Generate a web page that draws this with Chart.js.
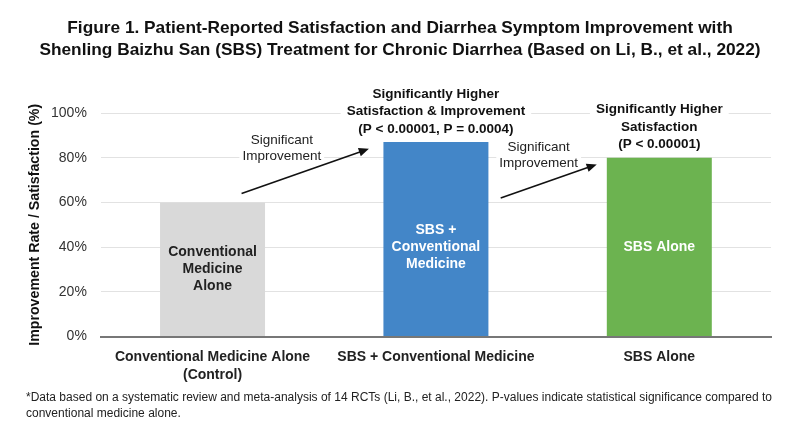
<!DOCTYPE html>
<html>
<head>
<meta charset="utf-8">
<script src="https://cdn.jsdelivr.net/npm/chart.js@4/dist/chart.umd.min.js"></script>
<style>
  html, body { margin: 0; padding: 0; background: #fff; }
  #wrap { width: 800px; height: 436px; position: relative; }
</style>
</head>
<body>
<div id="wrap"><canvas id="chart"></canvas></div>
<script>
// chart data
const categories = [["Conventional Medicine Alone", "(Control)"], "SBS + Conventional Medicine", "SBS Alone"];
const values = [60, 87, 80];
const barColors = ["#d9d9d9", "#4386c8", "#6cb350"];
const barLabels = [["Conventional", "Medicine", "Alone"], ["SBS +", "Conventional", "Medicine"], ["SBS Alone"]];
const barLabelColors = ["#222222", "#ffffff", "#ffffff"];
const topLabels = [[], ["Significantly Higher", "Satisfaction & Improvement", "(P < 0.00001, P = 0.0004)"], ["Significantly Higher", "Satisfaction", "(P < 0.00001)"]];
const yTicks = [0, 20, 40, 60, 80, 100];
const titleLines = [
  "Figure 1. Patient-Reported Satisfaction and Diarrhea Symptom Improvement with",
  "Shenling Baizhu San (SBS) Treatment for Chronic Diarrhea (Based on Li, B., et al., 2022)"
];
const footnoteLines = [
  "*Data based on a systematic review and meta-analysis of 14 RCTs (Li, B., et al., 2022). P-values indicate statistical significance compared to",
  "conventional medicine alone."
];

const FONT = "'Liberation Sans', Arial, sans-serif";

// arrows between bars, in (category index, value) units
const arrowNotes = [
  { from: [0.13, 64], to: [0.70, 84], text: ["Significant", "Improvement"], at: [0.31, 84] },
  { from: [1.29, 62], to: [1.72, 77], text: ["Significant", "Improvement"], at: [1.46, 81] }
];

const notesPlugin = {
  id: "notes",
  afterDatasetsDraw(chart) {
    const ctx = chart.ctx;
    const x = chart.scales.x, y = chart.scales.y;
    ctx.save();
    ctx.textAlign = "center";
    ctx.textBaseline = "middle";

    // labels inside bars
    values.forEach((v, i) => {
      const cx = x.getPixelForValue(i);
      const mid = y.getPixelForValue(Math.min(v / 2, 40));
      const lines = barLabels[i];
      ctx.font = "bold 14px " + FONT;
      ctx.fillStyle = barLabelColors[i];
      lines.forEach((t, k) => {
        ctx.fillText(t, cx, mid + (k - (lines.length - 1) / 2) * 17);
      });
    });

    // labels above bars
    values.forEach((v, i) => {
      const lines = topLabels[i];
      if (!lines.length) return;
      const cx = x.getPixelForValue(i);
      const top = y.getPixelForValue(v);
      ctx.font = "bold 13.5px " + FONT;
      let w = 0;
      lines.forEach(t => { w = Math.max(w, ctx.measureText(t).width); });
      const y0 = top - 13 - (lines.length - 1) * 17.5;
      ctx.fillStyle = "#fff";
      ctx.fillRect(cx - w / 2 - 6, y0 - 9, w + 12, (lines.length - 1) * 17.5 + 18);
      ctx.fillStyle = "#111";
      lines.forEach((t, k) => ctx.fillText(t, cx, y0 + k * 17.5));
    });

    // arrows and their text
    arrowNotes.forEach(n => {
      const x1 = x.getPixelForValue(n.from[0]), y1 = y.getPixelForValue(n.from[1]);
      const x2 = x.getPixelForValue(n.to[0]), y2 = y.getPixelForValue(n.to[1]);
      const tx = x.getPixelForValue(n.at[0]), ty = y.getPixelForValue(n.at[1]);
      ctx.font = "13.5px " + FONT;
      let w = 0;
      n.text.forEach(t => { w = Math.max(w, ctx.measureText(t).width); });
      ctx.fillStyle = "#fff";
      ctx.fillRect(tx - w / 2 - 3, ty - 16, w + 6, 32);
      ctx.fillStyle = "#222";
      n.text.forEach((t, k) => ctx.fillText(t, tx, ty - 8 + k * 16));

      const ang = Math.atan2(y2 - y1, x2 - x1);
      const head = 11;
      ctx.strokeStyle = "#111";
      ctx.lineWidth = 1.6;
      ctx.beginPath();
      ctx.moveTo(x1, y1);
      ctx.lineTo(x2 - Math.cos(ang) * head * 0.8, y2 - Math.sin(ang) * head * 0.8);
      ctx.stroke();
      ctx.fillStyle = "#111";
      ctx.beginPath();
      ctx.moveTo(x2, y2);
      ctx.lineTo(x2 - head * Math.cos(ang - 0.4), y2 - head * Math.sin(ang - 0.4));
      ctx.lineTo(x2 - head * Math.cos(ang + 0.4), y2 - head * Math.sin(ang + 0.4));
      ctx.closePath();
      ctx.fill();
    });
    ctx.restore();
  },
  afterDraw(chart) {
    const ctx = chart.ctx;
    ctx.save();
    // title
    ctx.textAlign = "center";
    ctx.textBaseline = "middle";
    ctx.fillStyle = "#111";
    ctx.font = "bold 17.3px " + FONT;
    titleLines.forEach((t, k) => ctx.fillText(t, 400, 28 + k * 22));
    // footnote, condensed to the reference width
    ctx.textAlign = "left";
    ctx.fillStyle = "#222";
    ctx.font = "12.5px " + FONT;
    const squeeze = 746 / ctx.measureText(footnoteLines[0]).width;
    ctx.translate(26, 0);
    ctx.scale(squeeze, 1);
    footnoteLines.forEach((t, k) => ctx.fillText(t, 0, 398 + k * 16));
    ctx.restore();
  }
};

new Chart(document.getElementById("chart"), {
  type: "bar",
  data: {
    labels: categories,
    datasets: [{
      data: values,
      backgroundColor: barColors,
      borderWidth: 0,
      categoryPercentage: 1,
      barPercentage: 0.47
    }]
  },
  options: {
    responsive: true,
    maintainAspectRatio: false,
    animation: false,
    layout: { padding: { top: 113, right: 29, bottom: 49, left: 27 } },
    plugins: {
      legend: { display: false },
      tooltip: { enabled: false }
    },
    scales: {
      x: {
        grid: { display: false },
        border: { display: true, color: "#777", width: 2 },
        ticks: {
          color: "#222",
          padding: 3,
          font: { family: FONT, size: 14, weight: "bold", lineHeight: 1.3 }
        }
      },
      y: {
        min: 0,
        max: 100,
        afterBuildTicks: axis => { axis.ticks = yTicks.map(v => ({ value: v })); },
        grid: { color: "#e2e2e2", lineWidth: 1, drawTicks: false },
        border: { display: false },
        ticks: {
          color: "#333",
          padding: 14,
          font: { family: FONT, size: 14 },
          callback: v => v + "%"
        },
        title: {
          display: true,
          text: "Improvement Rate / Satisfaction (%)",
          color: "#111",
          padding: { top: 0, bottom: -7 },
          font: { family: FONT, size: 14.2, weight: "bold" }
        }
      }
    }
  },
  plugins: [notesPlugin]
});
</script>
</body>
</html>
